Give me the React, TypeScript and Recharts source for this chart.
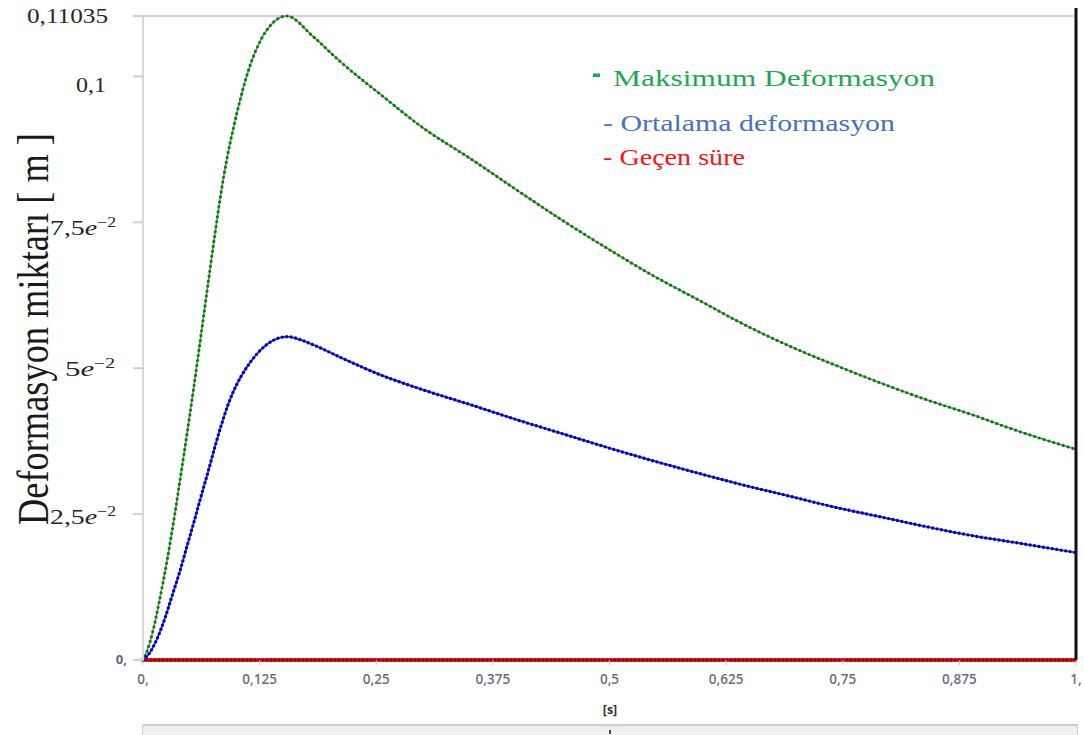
import { Line, LineChart, ReferenceLine, XAxis, YAxis } from "recharts";

// Maksimum Deformasyon (green)
const maxT = [
  0, 0.004, 0.011, 0.0164, 0.0211, 0.026, 0.0297, 0.0343, 0.0389, 0.0461, 0.0539, 0.0593, 0.0646, 0.0718,
  0.0772, 0.0825, 0.0897, 0.0968, 0.104, 0.111, 0.1236, 0.14, 0.154, 0.1825, 0.211, 0.257, 0.3, 0.352, 0.4,
  0.447, 0.5, 0.543, 0.6, 0.638, 0.7, 0.733, 0.8, 0.829, 0.9, 0.924, 1.0,
];
const maxV = [
  0, 0.0014, 0.0052, 0.0092, 0.013, 0.0172, 0.0207, 0.0252, 0.03, 0.0376, 0.0461, 0.0523, 0.0585, 0.0669,
  0.0731, 0.0789, 0.0857, 0.0911, 0.0959, 0.1, 0.1054, 0.1093, 0.11035, 0.1068, 0.1026, 0.0966, 0.0912,
  0.0858, 0.0806, 0.0756, 0.0703, 0.0662, 0.0613, 0.058, 0.0533, 0.0511, 0.0469, 0.0452, 0.0414, 0.04, 0.0361,
];

// Ortalama deformasyon (blue)
const avgT = [
  0, 0.0057, 0.0147, 0.0236, 0.0308, 0.0397, 0.0468, 0.054, 0.0611, 0.07, 0.0772, 0.0844, 0.0915, 0.1004,
  0.111, 0.1236, 0.14, 0.154, 0.1825, 0.211, 0.257, 0.3, 0.352, 0.4, 0.447, 0.5, 0.543, 0.6, 0.638, 0.7,
  0.733, 0.8, 0.829, 0.9, 0.924, 1.0,
];
const avgV = [
  0, 0.0009, 0.0035, 0.0072, 0.0108, 0.0153, 0.0193, 0.0233, 0.0274, 0.0324, 0.0366, 0.0405, 0.0439, 0.0472,
  0.0501, 0.0527, 0.0548, 0.0554, 0.054, 0.0519, 0.0487, 0.0463, 0.0437, 0.0412, 0.0389, 0.0363, 0.0343,
  0.0318, 0.0302, 0.0278, 0.0265, 0.0242, 0.0232, 0.021, 0.0204, 0.0184,
];

// Geçen süre (red)
const elapsedT = [0, 0.125, 0.25, 0.375, 0.5, 0.625, 0.75, 0.875, 1.0];
const elapsedV = [0, 0, 0, 0, 0, 0, 0, 0, 0];

const xTicks = [0, 0.125, 0.25, 0.375, 0.5, 0.625, 0.75, 0.875, 1];
const xTickLabels = ["0,", "0,125", "0,25", "0,375", "0,5", "0,625", "0,75", "0,875", "1,"];
const yTicks = [0, 0.025, 0.05, 0.075, 0.1, 0.11035];
const yTickBase = ["0,", "2,5", "5", "7,5", "0,1", "0,11035"];
const yTickExp = ["", "−2", "−2", "−2", "", ""];

const legendLabels = ["Maksimum Deformasyon", "Ortalama deformasyon", "Geçen süre"];
const yTitle = "Deformasyon miktarı [ m ]";
const xTitle = "[s]";

const toRows = (t: number[], v: number[]) => t.map((x, i) => ({ t: x, v: v[i] }));
const maxRows = toRows(maxT, maxV);
const avgRows = toRows(avgT, avgV);
const elapsedRows = toRows(elapsedT, elapsedV);

const serif = "'Liberation Serif', 'Times New Roman', serif";
const ansysFont = "'Open Sans', 'DejaVu Sans', sans-serif";

// right edge, baseline offset and fitted width per y label
const yLabelLayout = [
  { end: 127, dy: 4, w: 0 },
  { end: 116, dy: 10, w: 66 },
  { end: 115, dy: 8, w: 50 },
  { end: 116, dy: 13, w: 66 },
  { end: 106, dy: 16, w: 30 },
  { end: 108, dy: 7, w: 81 },
];

function YTick(props: any) {
  const { y, payload } = props;
  const i = yTicks.indexOf(payload.value);
  if (i < 0) return null;
  const lay = yLabelLayout[i];
  if (i === 0) {
    return (
      <text x={lay.end} y={y + lay.dy} textAnchor="end" fontFamily={ansysFont} fontSize={13} fontWeight={700} fill="#5e6676">
        {yTickBase[i]}
      </text>
    );
  }
  const exp = yTickExp[i];
  return (
    <text
      x={lay.end}
      y={y + lay.dy}
      textAnchor="end"
      fontFamily={serif}
      fontSize={22}
      fill="#262626"
      textLength={lay.w}
      lengthAdjust="spacingAndGlyphs"
    >
      {yTickBase[i]}
      {exp && <tspan fontStyle="italic">e</tspan>}
      {exp && (
        <tspan dy={-8} fontSize={14}>
          {exp}
        </tspan>
      )}
    </text>
  );
}

function XTick(props: any) {
  const { x, y, payload } = props;
  const i = xTicks.indexOf(payload.value);
  return (
    <text x={x} y={y + 17} textAnchor="middle" fontFamily={ansysFont} fontSize={13.5} fontWeight={600} fill="#6c6f78">
      {xTickLabels[i]}
    </text>
  );
}

export default function App() {
  return (
    <div style={{ position: "absolute", left: 0, top: 0, width: 1084, height: 735, background: "#fff", overflow: "hidden" }}>
      <LineChart width={1084} height={735} margin={{ top: 16, right: 8, bottom: 45, left: 0 }}>
        <XAxis
          dataKey="t"
          type="number"
          domain={[0, 1]}
          ticks={xTicks}
          axisLine={false}
          tickLine={{ stroke: "#c8c8c8" }}
          tickSize={5}
          height={30}
          tick={<XTick />}
        />
        <YAxis
          type="number"
          domain={[0, 0.11035]}
          ticks={yTicks}
          width={143}
          axisLine={{ stroke: "#d9d9d9", strokeWidth: 2 }}
          tickLine={{ stroke: "#d0d0d0", strokeWidth: 2 }}
          tickSize={10}
          tick={<YTick />}
        />
        <ReferenceLine y={0.11035} stroke="#d6d6d6" strokeWidth={2.5} />

        <Line data={elapsedRows} dataKey="v" type="linear" stroke="#e02828" strokeWidth={3.5} dot={false} activeDot={false} isAnimationActive={false} />
        <Line data={elapsedRows} dataKey="v" type="linear" stroke="#c00000" strokeWidth={4.2} strokeDasharray="0 4" strokeLinecap="round" dot={false} activeDot={false} isAnimationActive={false} />

        <Line data={maxRows} dataKey="v" type="monotone" stroke="#4aae4a" strokeWidth={1.6} dot={false} activeDot={false} isAnimationActive={false} />
        <Line data={maxRows} dataKey="v" type="monotone" stroke="#117711" strokeWidth={3.2} strokeDasharray="0 5" strokeLinecap="round" dot={false} activeDot={false} isAnimationActive={false} />

        <Line data={avgRows} dataKey="v" type="monotone" stroke="#3a3ae6" strokeWidth={2} dot={false} activeDot={false} isAnimationActive={false} />
        <Line data={avgRows} dataKey="v" type="monotone" stroke="#0000c8" strokeWidth={3.4} strokeDasharray="0 4.5" strokeLinecap="round" dot={false} activeDot={false} isAnimationActive={false} />

        <ReferenceLine
          segment={[
            { x: 1, y: 0 },
            { x: 1, y: 0.1117 },
          ]}
          ifOverflow="visible"
          stroke="#111"
          strokeWidth={3}
        />
      </LineChart>

      <svg width={1084} height={735} style={{ position: "absolute", left: 0, top: 0, pointerEvents: "none" }}>
        <text
          transform="translate(48,525) rotate(-90)"
          fontFamily={serif}
          fontSize={44}
          fill="#1a1a1a"
          textLength={392}
          lengthAdjust="spacingAndGlyphs"
        >
          {yTitle}
        </text>

        <rect x={593} y={73.5} width={7} height={3.5} fill="#1fa84f" />
        <text x={613} y={86} fontFamily={serif} fontSize={23} fill="#1fa84f" textLength={322} lengthAdjust="spacingAndGlyphs">
          {legendLabels[0]}
        </text>
        <text x={603} y={131} fontFamily={serif} fontSize={23} fill="#4472c4" textLength={292} lengthAdjust="spacingAndGlyphs">
          {"- " + legendLabels[1]}
        </text>
        <text x={603} y={165} fontFamily={serif} fontSize={23} fill="#ff1010" textLength={142} lengthAdjust="spacingAndGlyphs">
          {"- " + legendLabels[2]}
        </text>

        <text x={610} y={714} textAnchor="middle" fontFamily={ansysFont} fontSize={12.5} fontWeight={700} fill="#333">
          {xTitle}
        </text>
      </svg>

      <div
        style={{
          position: "absolute",
          left: 142,
          top: 724,
          width: 934,
          height: 14,
          borderTop: "2px solid #cfcfcf",
          borderLeft: "1px solid #cfcfcf",
          borderRight: "1px solid #cfcfcf",
          background: "linear-gradient(#ececec, #f6f6f6)",
        }}
      >
        <div style={{ position: "absolute", left: 466, top: 4, width: 2, height: 4, background: "#444" }} />
      </div>
    </div>
  );
}
